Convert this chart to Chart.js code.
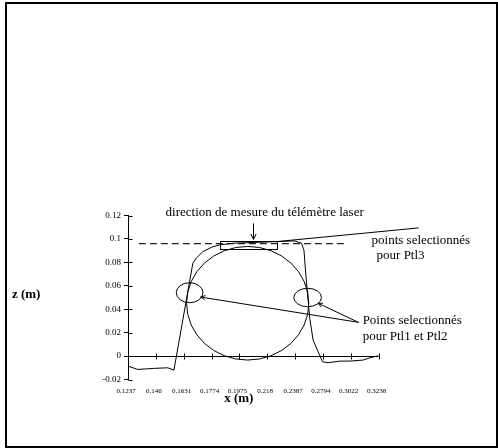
<!DOCTYPE html>
<html><head><meta charset="utf-8">
<script src="https://cdn.jsdelivr.net/npm/chart.js@4.4.0/dist/chart.umd.min.js"></script>
<style>html,body{margin:0;padding:0;background:#fff;}canvas{display:block;}</style>
</head><body>
<canvas id="c" width="498" height="448"></canvas>
<script>
// ---- data ----
const xTickLabels = ['0.1237','0.146','0.1631','0.1774','0.1975','0.218','0.2387','0.2794','0.3022','0.3238'];
const yTickValues = [-0.02, 0, 0.02, 0.04, 0.06, 0.08, 0.1, 0.12];
// profile position along the category axis (in tick-label index units) and height z (m)
const profileX = [0, 0.35, 0.95, 1.43, 1.65, 2.33, 2.45, 2.69, 3.0, 3.29, 3.83, 4.55, 5.33, 5.99, 6.23, 6.32, 6.41, 6.53, 6.65, 6.83, 6.99, 7.19, 7.61, 7.97, 8.45, 8.69, 9];
const profileZ = [-0.0086, -0.0114, -0.0105, -0.0100, -0.0120, 0.0793, 0.0835, 0.0892, 0.0929, 0.0949, 0.0964, 0.0970, 0.0977, 0.0983, 0.0964, 0.0906, 0.0635, 0.0322, 0.0137, 0.0037, -0.0049, -0.0057, -0.0043, -0.0043, -0.0034, -0.0015, 0.0003];
// laser measurement direction (dashed)
const laserX = [0.39, 7.87];
const laserZ = [0.096, 0.096];

// ---- annotations (data units: x = tick index, z = metres) ----
const bigCircle = {cx: 4.30, cz: 0.0451, rx: 2.196, rz: 0.0485};
const ellipseLeft = {cx: 2.214, cz: 0.0541, rx: 0.479, rz: 0.00855};
const ellipseRight = {cx: 6.454, cz: 0.0500, rx: 0.497, rz: 0.00787};
const selBox = {x1: 3.294, x2: 5.335, z1: 0.0911, z2: 0.0983};
const ptl3Line = {x1: 10.44, z1: 0.1094, x2: 5.335, z2: 0.0977};
const arrowsPtl12 = [
  {x1: 8.28, z1: 0.0288, x2: 2.61, z2: 0.0504},
  {x1: 8.28, z1: 0.0288, x2: 6.83, z2: 0.0451}
];
const laserArrow = {x: 4.49, z1: 0.1133, z2: 0.0996};
const texts = [
  {t: 'direction de mesure du télémètre laser', x: 1.35, z: 0.1192, align: 'left', bold: false},
  {t: 'points selectionnés', x: 8.75, z: 0.0957, align: 'left', bold: false},
  {t: 'pour Ptl3', x: 8.93, z: 0.0827, align: 'left', bold: false},
  {t: 'Points selectionnés', x: 8.43, z: 0.0275, align: 'left', bold: false},
  {t: 'pour Ptl1 et Ptl2', x: 8.43, z: 0.0137, align: 'left', bold: false},
  {t: 'z (m)', x: -4.17, z: 0.0493, align: 'left', bold: true},
  {t: 'x (m)', x: 3.98, z: -0.0393, align: 'center', bold: true}
];

const FONT = '"Liberation Serif","Times New Roman",serif';

const annotate = {
  id: 'annotate',
  beforeDraw(chart) {
    const ctx = chart.ctx;
    ctx.save(); ctx.fillStyle = '#fff'; ctx.fillRect(0, 0, chart.width, chart.height); ctx.restore();
  },
  afterDraw(chart) {
    const ctx = chart.ctx, xs = chart.scales.x, ys = chart.scales.y;
    const X = v => xs.getPixelForValue(v), Y = v => ys.getPixelForValue(v);
    const a = v => Math.round(v) + 0.5;
    ctx.save();
    ctx.strokeStyle = '#000';
    // frame
    ctx.lineWidth = 2;
    ctx.strokeRect(6, 3, 491, 444);
    ctx.lineWidth = 1;
    // right half of y ticks
    const x0 = a(X(0));
    yTickValues.forEach(v => { const y = a(Y(v)); ctx.beginPath(); ctx.moveTo(x0, y); ctx.lineTo(x0 + 4, y); ctx.stroke(); });
    // ticks crossing the z=0 line
    const y0 = a(Y(0));
    xTickLabels.forEach((l, i) => { const x = a(X(i)); ctx.beginPath(); ctx.moveTo(x, y0 - 3); ctx.lineTo(x, y0 + 3); ctx.stroke(); });
    // ellipses
    [bigCircle, ellipseLeft, ellipseRight].forEach(e => {
      ctx.beginPath();
      ctx.ellipse(X(e.cx), Y(e.cz), Math.abs(X(e.cx + e.rx) - X(e.cx)), Math.abs(Y(e.cz + e.rz) - Y(e.cz)), 0, 0, Math.PI * 2);
      ctx.stroke();
    });
    // selection box
    ctx.strokeRect(a(X(selBox.x1)), a(Y(selBox.z2)), Math.round(X(selBox.x2) - X(selBox.x1)), Math.round(Y(selBox.z1) - Y(selBox.z2)));
    // Ptl3 pointer line
    ctx.beginPath(); ctx.moveTo(X(ptl3Line.x1), Y(ptl3Line.z1)); ctx.lineTo(X(ptl3Line.x2), Y(ptl3Line.z2)); ctx.stroke();
    // arrows
    const arrow = (px1, py1, px2, py2, len) => {
      ctx.beginPath(); ctx.moveTo(px1, py1); ctx.lineTo(px2, py2); ctx.stroke();
      const ang = Math.atan2(py2 - py1, px2 - px1);
      ctx.beginPath();
      ctx.moveTo(px2 - len * Math.cos(ang - 0.45), py2 - len * Math.sin(ang - 0.45));
      ctx.lineTo(px2, py2);
      ctx.lineTo(px2 - len * Math.cos(ang + 0.45), py2 - len * Math.sin(ang + 0.45));
      ctx.stroke();
    };
    arrowsPtl12.forEach(r => arrow(X(r.x1), Y(r.z1), X(r.x2), Y(r.z2), 5));
    arrow(a(X(laserArrow.x)), Y(laserArrow.z1), a(X(laserArrow.x)), Y(laserArrow.z2), 6);
    // texts
    ctx.fillStyle = '#000';
    ctx.textBaseline = 'alphabetic';
    texts.forEach(t => {
      ctx.font = (t.bold ? 'bold ' : '') + '13px ' + FONT;
      ctx.textAlign = t.align;
      ctx.fillText(t.t, X(t.x), Y(t.z));
    });
    ctx.restore();
  }
};

new Chart(document.getElementById('c'), {
  type: 'line',
  data: {
    datasets: [
      {data: profileX.map((x, i) => ({x: x, y: profileZ[i]})), borderColor: '#000', borderWidth: 1, pointRadius: 0, tension: 0, fill: false},
      {data: laserX.map((x, i) => ({x: x, y: laserZ[i]})), borderColor: '#222', borderWidth: 1.2, borderDash: [7, 4], pointRadius: 0, fill: false}
    ]
  },
  options: {
    responsive: false,
    animation: false,
    devicePixelRatio: 1,
    layout: {padding: {left: 88, top: 215.5, right: 119.5, bottom: 48.5}},
    plugins: {legend: {display: false}, tooltip: {enabled: false}},
    scales: {
      x: {
        type: 'linear', position: 'bottom', min: 0, max: 9,
        border: {display: false},
        grid: {display: false, drawTicks: false},
        afterBuildTicks: s => { s.ticks = xTickLabels.map((l, i) => ({value: i})); },
        afterFit: s => { s.height = 20; },
        ticks: {
          autoSkip: false, maxRotation: 0, minRotation: 0, padding: 7, labelOffset: -2,
          color: '#000', font: {family: FONT, size: 7},
          callback: (v, i) => xTickLabels[i]
        }
      },
      y: {
        type: 'linear', position: 'left', min: -0.02, max: 0.12,
        border: {display: true, color: '#000', width: 1},
        grid: {
          drawOnChartArea: true, tickLength: 4, tickColor: '#000',
          color: c => (c.tick && c.tick.value === 0) ? '#000' : 'rgba(0,0,0,0)'
        },
        afterBuildTicks: s => { s.ticks = yTickValues.map(v => ({value: v})); },
        afterFit: s => { s.width = 40; },
        ticks: {
          padding: 3, color: '#000', font: {family: FONT, size: 9},
          callback: v => String(Math.round(v * 100) / 100)
        }
      }
    }
  },
  plugins: [annotate]
});
</script>
</body></html>
